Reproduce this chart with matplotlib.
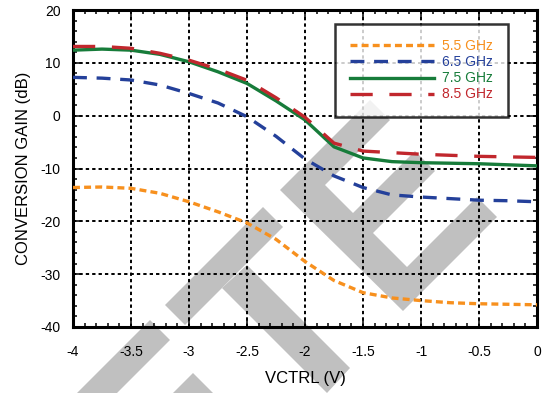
import matplotlib
matplotlib.use('Agg')
import matplotlib.pyplot as plt
from matplotlib.patches import Polygon
from matplotlib.ticker import MultipleLocator, FuncFormatter
from matplotlib.transforms import Affine2D

plt.rcParams['font.family'] = ['Liberation Sans', 'DejaVu Sans']
plt.rcParams['lines.scale_dashes'] = False

# Control voltage (V)
vctrl = [-4, -3.75, -3.5, -3.25, -3, -2.75, -2.5, -2.25, -2,
         -1.75, -1.5, -1.25, -1, -0.75, -0.5, -0.25, 0]

# Conversion gain (dB) per LO frequency
gain_55 = [-13.6, -13.5, -13.75, -14.7, -16.3, -18.2, -20.3, -23.4, -27.6,
           -31.2, -33.5, -34.5, -35.0, -35.4, -35.6, -35.7, -35.8]
gain_65 = [7.25, 7.1, 6.75, 5.8, 4.2, 2.4, -0.2, -3.9, -8.2,
           -11.4, -13.6, -15.0, -15.4, -15.7, -16.0, -16.1, -16.3]
gain_75 = [12.4, 12.6, 12.4, 11.6, 10.2, 8.3, 6.1, 2.8, -0.8,
           -5.9, -8.0, -8.7, -8.9, -9.0, -9.1, -9.3, -9.5]
gain_85 = [13.1, 13.1, 12.75, 11.8, 10.5, 8.8, 6.7, 3.4, -0.3,
           -5.2, -6.7, -7.0, -7.3, -7.5, -7.7, -7.8, -7.9]

labels = ['5.5 GHz', '6.5 GHz', '7.5 GHz', '8.5 GHz']
colors = ['#f7901e', '#24409a', '#177c3a', '#c1272d']
dashes = [(5, 3), (10, 7), None, (16, 12)]

fig = plt.figure(figsize=(5.42, 3.93), dpi=100)
ax = fig.add_axes([73 / 542, 1 - 327 / 393, 464 / 542, 317 / 393])
ax.set_facecolor('none')

# grey watermark behind the plot (pixel coords, y down)
px = Affine2D().scale(1 / 542, -1 / 393).translate(0, 1) + fig.transFigure
shapes = [
    [(280, 190), (370, 100), (390, 120), (325, 185), (353, 213), (415, 151),
     (435, 171), (373, 233), (407, 267), (477, 197), (497, 217), (403, 311)],
    [(165, 305), (263, 207), (283, 227), (185, 325)],
    [(222, 288), (247, 265), (350, 368), (327, 393)],
    [(150, 320), (170, 340), (117, 393), (77, 393)],
    [(193, 373), (213, 393), (173, 393)],
]
for s in shapes:
    fig.add_artist(Polygon(s, closed=True, transform=px, facecolor='#c0c0c0',
                           edgecolor='none', zorder=-1))

for g, lab, c, d in zip([gain_55, gain_65, gain_75, gain_85], labels, colors, dashes):
    line, = ax.plot(vctrl, g, color=c, lw=2.4, label=lab, zorder=3)
    if d is not None:
        line.set_dashes(d)

ax.set_xlim(-4, 0)
ax.set_ylim(-40, 20)
ax.xaxis.set_major_locator(MultipleLocator(0.5))
ax.xaxis.set_minor_locator(MultipleLocator(0.1))
ax.yaxis.set_major_locator(MultipleLocator(10))
ax.yaxis.set_minor_locator(MultipleLocator(2))
fmt = FuncFormatter(lambda v, _: '0' if v == 0 else f'{v:g}')
ax.xaxis.set_major_formatter(fmt)
ax.yaxis.set_major_formatter(fmt)
ax.tick_params(which='both', direction='in', top=True, right=True, colors='black')
ax.tick_params(which='major', length=5, width=1.1, labelsize=10)
ax.tick_params(which='minor', length=3, width=1.1)
ax.tick_params(axis='x', which='major', pad=13)
ax.tick_params(axis='y', which='major', pad=9)
ax.grid(True, which='major', color='black', linestyle=(0, (2.4, 2.2)), lw=1.4, zorder=1)
for sp in ax.spines.values():
    sp.set_linewidth(2.2)

ax.set_xlabel('VCTRL (V)', fontsize=12)
ax.set_ylabel('CONVERSION GAIN (dB)', fontsize=12)
ax.xaxis.set_label_coords(0.5, -0.14)
ax.yaxis.set_label_coords(-0.09, 0.5)

leg = ax.legend(loc='upper right', bbox_to_anchor=(0.9375, 0.956), borderaxespad=0,
                fontsize=10, frameon=True, fancybox=False, edgecolor='black',
                handlelength=6.0, handletextpad=0.6, borderpad=1.1,
                labelspacing=0.15, labelcolor='linecolor')
leg.get_frame().set_linewidth(1.8)
leg.set_zorder(5)

fig.savefig('out.png', dpi=100)
